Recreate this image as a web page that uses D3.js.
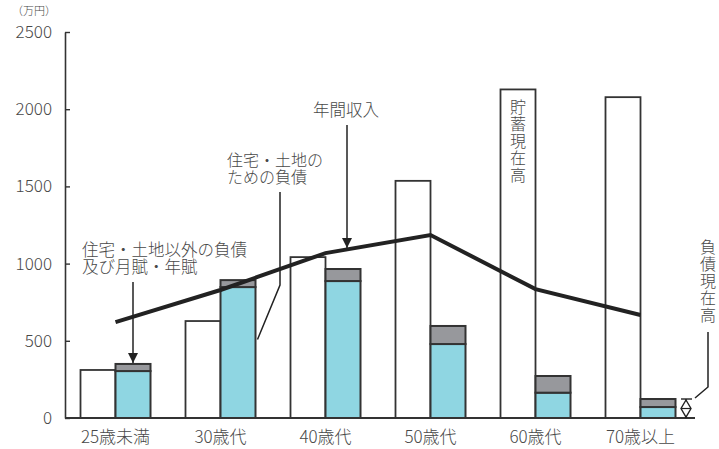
<!DOCTYPE html>
<html>
<head>
<meta charset="utf-8">
<script src="https://cdn.jsdelivr.net/npm/d3@7"></script>
<style>
body { margin: 0; background: #fff; }
svg text { font-family: "Noto Sans CJK JP", "Noto Sans", sans-serif; font-weight: 300; fill: #484848; }
.note { font-family: "Noto Sans CJK JP", "Noto Sans", sans-serif; font-weight: 300; color: #484848; white-space: nowrap; margin: 0; }
</style>
</head>
<body>
<div id="chart-area"></div>
<script>
// chart data (万円)
const categories = ["25歳未満", "30歳代", "40歳代", "50歳代", "60歳代", "70歳以上"];
const savings = [311, 628, 1042, 1536, 2128, 2078];      // 貯蓄現在高
const housingDebt = [304, 848, 887, 479, 164, 71];       // 住宅・土地のための負債
const otherDebt = [46, 45, 78, 117, 108, 52];            // 住宅・土地以外の負債及び月賦・年賦
const income = [621, 829, 1068, 1185, 835, 667];         // 年間収入
const yTicks = [0, 500, 1000, 1500, 2000, 2500];

const width = 719, height = 449;
const svg = d3.select("#chart-area").append("svg")
    .attr("width", width)
    .attr("height", height);

const x = d3.scaleBand().domain(categories).range([63, 693]);
const y = d3.scaleLinear().domain([0, 2500]).range([418, 32]);
const barW = 35;
const mid = d => x(d) + x.bandwidth() / 2;

let data = categories.map((c, i) => ({
    cat: c, savings: savings[i], housing: housingDebt[i],
    other: otherDebt[i], income: income[i]
}));

// arrow head
svg.append("defs").append("marker")
    .attr("id", "arrow")
    .attr("viewBox", "0 0 10 14")
    .attr("refX", 10).attr("refY", 7)
    .attr("markerWidth", 10).attr("markerHeight", 14)
    .attr("markerUnits", "userSpaceOnUse")
    .attr("orient", "auto")
    .append("path")
    .attr("d", "M0,2 L10,7 L0,12 Z")
    .attr("fill", "#222");

// y axis
let yAxis = d3.axisLeft(y).tickValues(yTicks).tickFormat(d3.format("d"))
    .tickSizeInner(-5).tickSizeOuter(0).tickPadding(13);
let yg = svg.append("g").attr("transform", "translate(65,0)").call(yAxis);
yg.select(".domain").attr("stroke", "#333").attr("stroke-width", 1.6);
yg.selectAll(".tick line").attr("stroke", "#333").attr("stroke-width", 1.4);
yg.selectAll("text").style("font-size", "17px").attr("fill", "#484848");

svg.append("text")
    .attr("x", 12).attr("y", 15)
    .style("font-size", "11px")
    .text("（万円）");

// savings bars
svg.selectAll(".sav").data(data).enter().append("rect")
    .attr("class", "sav")
    .attr("x", d => mid(d.cat) - barW)
    .attr("y", d => y(d.savings))
    .attr("width", barW)
    .attr("height", d => y(0) - y(d.savings))
    .attr("fill", "#fff").attr("stroke", "#333").attr("stroke-width", 1.8);

// debt bars (housing + other)
svg.selectAll(".house").data(data).enter().append("rect")
    .attr("class", "house")
    .attr("x", d => mid(d.cat))
    .attr("y", d => y(d.housing))
    .attr("width", barW)
    .attr("height", d => y(0) - y(d.housing))
    .attr("fill", "#8fd6e2").attr("stroke", "#333").attr("stroke-width", 2);

svg.selectAll(".other").data(data).enter().append("rect")
    .attr("class", "other")
    .attr("x", d => mid(d.cat))
    .attr("y", d => y(d.housing + d.other))
    .attr("width", barW)
    .attr("height", d => y(d.housing) - y(d.housing + d.other))
    .attr("fill", "#97989c").attr("stroke", "#333").attr("stroke-width", 2);

// baseline
svg.append("line")
    .attr("x1", 65).attr("x2", 695)
    .attr("y1", y(0)).attr("y2", y(0))
    .attr("stroke", "#333").attr("stroke-width", 1.8);

// x axis labels
let xAxis = d3.axisBottom(x).tickSize(0).tickPadding(13);
let xg = svg.append("g").attr("transform", "translate(0," + y(0) + ")").call(xAxis);
xg.select(".domain").remove();
xg.selectAll("text").style("font-size", "17px").attr("fill", "#484848");

// income line
let line = d3.line().x(d => mid(d.cat)).y(d => y(d.income));
svg.append("path")
    .datum(data)
    .attr("d", line)
    .attr("fill", "none")
    .attr("stroke", "#222")
    .attr("stroke-width", 4);

// annotations
// multi-line notes go in a foreignObject so the lines can sit tight
function note(lines, x0, y0, lh, size) {
    svg.append("foreignObject")
        .attr("x", x0).attr("y", y0)
        .attr("width", 200).attr("height", lh * lines.length + 4)
        .append("xhtml:div")
        .attr("class", "note")
        .style("font-size", size + "px")
        .style("line-height", lh + "px")
        .html(lines.join("<br>"));
}

function vlabel(s, x0, y0) {
    svg.append("text")
        .attr("x", x0).attr("y", y0)
        .style("writing-mode", "vertical-rl")
        .style("font-size", "16px")
        .style("letter-spacing", "1px")
        .text(s);
}

// 住宅・土地以外の負債
let d0 = data[0];
note(["住宅・土地以外の負債", "及び月賦・年賦"], 82, 241, 17, 16.5);
svg.append("line")
    .attr("x1", mid(d0.cat) + barW / 2).attr("x2", mid(d0.cat) + barW / 2)
    .attr("y1", 282).attr("y2", y(d0.housing + d0.other) - 1)
    .attr("stroke", "#222").attr("stroke-width", 1.5)
    .attr("marker-end", "url(#arrow)");

// 住宅・土地のための負債
let d1 = data[1];
note(["住宅・土地の", "ための負債"], 227, 151, 16.5, 16);
svg.append("path")
    .attr("d", "M280,192 L280,285 L" + (mid(d1.cat) + barW + 2) + "," + y(d1.housing * 0.6))
    .attr("fill", "none").attr("stroke", "#222").attr("stroke-width", 1.5);

// 年間収入
svg.append("text")
    .attr("x", 346).attr("y", 116)
    .attr("text-anchor", "middle")
    .style("font-size", "16.5px")
    .text("年間収入");
svg.append("line")
    .attr("x1", 347).attr("x2", 347)
    .attr("y1", 125).attr("y2", 248)
    .attr("stroke", "#222").attr("stroke-width", 1.5)
    .attr("marker-end", "url(#arrow)");

// 貯蓄現在高 (vertical)
let d4 = data[4];
vlabel("貯蓄現在高", mid(d4.cat) - barW / 2, 99);

// 負債現在高 (vertical)
vlabel("負債現在高", 708, 239);
svg.append("path")
    .attr("d", "M708,332 L708,387 L695,398")
    .attr("fill", "none").attr("stroke", "#222").attr("stroke-width", 1.5);

// debt height marker
let d5 = data[5];
let topY = y(d5.housing + d5.other);
svg.append("line")
    .attr("x1", 681).attr("x2", 692)
    .attr("y1", topY).attr("y2", topY)
    .attr("stroke", "#222").attr("stroke-width", 1.4);
svg.append("line")
    .attr("x1", 686).attr("x2", 686)
    .attr("y1", topY).attr("y2", y(0))
    .attr("stroke", "#222").attr("stroke-width", 1.4);
let midY = (topY + y(0)) / 2;
svg.append("path")
    .attr("d", "M686," + (topY + 1) + " L681," + midY + " L686," + (y(0) - 1) + " L691," + midY + " Z")
    .attr("fill", "#fff").attr("stroke", "#222").attr("stroke-width", 1.4);
svg.append("line")
    .attr("x1", 681).attr("x2", 691)
    .attr("y1", midY).attr("y2", midY)
    .attr("stroke", "#222").attr("stroke-width", 1.2);
</script>
</body>
</html>
